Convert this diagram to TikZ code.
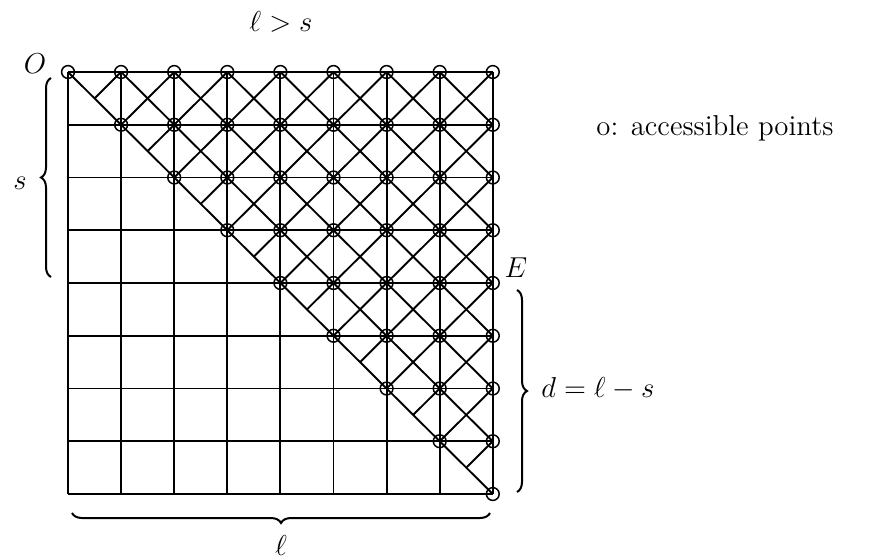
\documentclass[tikz,border=0pt]{standalone}
\usetikzlibrary{decorations.pathreplacing,calc}
\begin{document}
\begin{tikzpicture}[x=0.5pt,y=-0.5pt,
  gline/.style={line width=0.95pt},
  acc/.style={circle,draw,line width=0.75pt,inner sep=0pt,minimum size=6.4pt},
  lbl/.style={font=\Large,inner sep=0pt},
  brc/.style={decorate,decoration={brace,amplitude=5pt},line width=1pt}]
\useasboundingbox (0,0) rectangle (877,558);
\foreach \i in {0,...,8}{
  \foreach \j in {0,...,8}{
    \coordinate (g-\i-\j) at ({68+53.1*\i},{72+52.75*\j});
  }
}
% grid
\foreach \k in {0,...,8}{
  \draw[gline] (g-\k-0) -- (g-\k-8);
  \draw[gline] (g-0-\k) -- (g-8-\k);
}
% diagonals (down-right)
\foreach \k in {0,...,7}{
  \pgfmathtruncatemacro\e{8-\k}
  \draw[gline] (g-\k-0) -- (g-8-\e);
}
% anti-diagonals (down-left), clipped at the main diagonal
\foreach \c in {1,...,15}{
  \pgfmathtruncatemacro\a{floor(\c/2)}
  \pgfmathtruncatemacro\b{ceil(\c/2)}
  \ifnum\c<9
    \draw[gline] (g-\c-0) -- ($(g-\a-\a)!0.5!(g-\b-\b)$);
  \else
    \pgfmathtruncatemacro\r{\c-8}
    \draw[gline] (g-8-\r) -- ($(g-\a-\a)!0.5!(g-\b-\b)$);
  \fi
}
% accessible points
\foreach \i in {0,...,8}{
  \foreach \j in {0,...,\i}{
    \node[acc] (p-\i-\j) at (g-\i-\j) {};
  }
}
% labels
\node[lbl] (title) at (281,22) {$\ell > s$};
\node[lbl] (O) at (35,64) {$O$};
\node[lbl] (E) at (516,268) {$E$};
\node[lbl,anchor=west] (legend) at (596,128) {o: accessible points};
% braces
\coordinate (lb1) at (51,277);
\coordinate (lb2) at (51,78);
\draw[brc] (lb1) -- (lb2);
\node[lbl] (s) at (20,183) {$s$};
\coordinate (rb1) at (517,290);
\coordinate (rb2) at (517,492);
\draw[brc] (rb1) -- (rb2);
\node[lbl,anchor=west] (d) at (541,389) {$d = \ell - s$};
\coordinate (bb1) at (490,513);
\coordinate (bb2) at (72,513);
\draw[brc] (bb1) -- (bb2);
\node[lbl] (l) at (281,545) {$\ell$};
\end{tikzpicture}
\end{document}
